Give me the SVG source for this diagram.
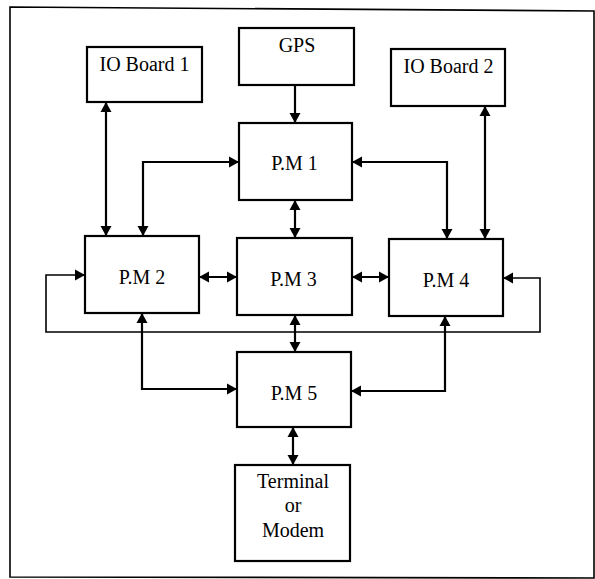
<svg xmlns="http://www.w3.org/2000/svg" width="595" height="579" viewBox="0 0 595 579">
<style>
  .box { fill: #fff; stroke: #000; stroke-width: 2.2; }
  .lbl { font-family: "Liberation Serif", "Times New Roman", serif; font-size: 20px; fill: #000; text-anchor: middle; }
  .c { fill: none; stroke: #000; stroke-width: 2.2; }
  .thin { fill: none; stroke: #000; stroke-width: 1.6; }
  .frame { fill: none; stroke: #000; stroke-width: 1.6; }
</style>
<defs>
  <marker id="ah" markerUnits="userSpaceOnUse" markerWidth="11" markerHeight="12" refX="10" refY="6" orient="auto-start-reverse" viewBox="0 0 11 12">
    <path d="M0,0.5 L10,6 L0,11.5 z" fill="#000"/>
  </marker>
</defs>
<rect width="595" height="579" fill="#fff"/>
<path class="frame" d="M10,7 L594,11 L594,578 L10,577 Z"/>

<g id="connectors">
  <path class="c" d="M295,85 L295,123" marker-end="url(#ah)"/>
  <path class="c" d="M106,102 L106,236" marker-start="url(#ah)" marker-end="url(#ah)"/>
  <path class="c" d="M239,162 L143,162 L143,236" marker-start="url(#ah)" marker-end="url(#ah)"/>
  <path class="c" d="M352,162 L447,162 L447,239" marker-start="url(#ah)" marker-end="url(#ah)"/>
  <path class="c" d="M485,106 L485,239" marker-start="url(#ah)" marker-end="url(#ah)"/>
  <path class="c" d="M295,200 L295,238" marker-start="url(#ah)" marker-end="url(#ah)"/>
  <path class="c" d="M199,277 L237,277" marker-start="url(#ah)" marker-end="url(#ah)"/>
  <path class="c" d="M352,277 L389,277" marker-start="url(#ah)" marker-end="url(#ah)"/>
  <path class="thin" d="M85,275 L46,275 L46,332 L540,332 L540,278 L503,278" marker-start="url(#ah)" marker-end="url(#ah)"/>
  <path class="c" d="M295,315 L295,352" marker-start="url(#ah)" marker-end="url(#ah)"/>
  <path class="c" d="M142,313 L142,389 L237,389" marker-start="url(#ah)" marker-end="url(#ah)"/>
  <path class="c" d="M445,316 L445,391 L351,391" marker-start="url(#ah)" marker-end="url(#ah)"/>
  <path class="c" d="M293,427 L293,465" marker-start="url(#ah)" marker-end="url(#ah)"/>
</g>

<g id="io1">
  <rect class="box" x="87" y="47" width="115" height="55"/>
  <text class="lbl" x="144.5" y="71">IO Board 1</text>
</g>
<g id="gps">
  <rect class="box" x="239" y="28" width="115" height="57"/>
  <text class="lbl" x="297" y="52">GPS</text>
</g>
<g id="io2">
  <rect class="box" x="391" y="49" width="114" height="57"/>
  <text class="lbl" x="448.5" y="73">IO Board 2</text>
</g>
<g id="pm1">
  <rect class="box" x="239" y="123" width="113" height="77"/>
  <text class="lbl" x="294.5" y="170">P.M 1</text>
</g>
<g id="pm2">
  <rect class="box" x="85" y="236" width="114" height="77"/>
  <text class="lbl" x="142" y="284">P.M 2</text>
</g>
<g id="pm3">
  <rect class="box" x="237" y="238" width="115" height="77"/>
  <text class="lbl" x="293.5" y="286">P.M 3</text>
</g>
<g id="pm4">
  <rect class="box" x="389" y="239" width="114" height="77"/>
  <text class="lbl" x="446" y="287">P.M 4</text>
</g>
<g id="pm5">
  <rect class="box" x="237" y="352" width="114" height="75"/>
  <text class="lbl" x="294" y="400">P.M 5</text>
</g>
<g id="terminal">
  <rect class="box" x="235" y="465" width="115" height="96"/>
  <text class="lbl" x="293" y="488">Terminal</text>
  <text class="lbl" x="293" y="512">or</text>
  <text class="lbl" x="293" y="537">Modem</text>
</g>
</svg>
